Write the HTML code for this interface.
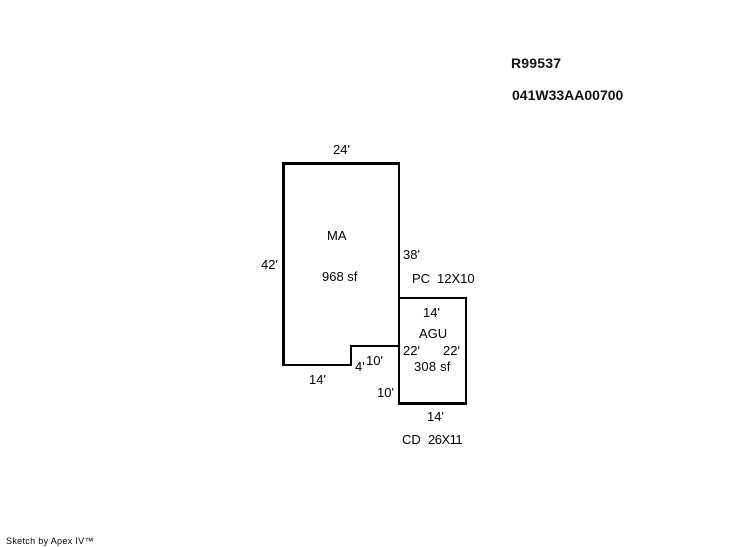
<!DOCTYPE html>
<html>
<head>
<meta charset="utf-8">
<style>
html,body{margin:0;padding:0;background:#fff;width:746px;height:547px;overflow:hidden}
svg{display:block}
text{font-family:"Liberation Sans",sans-serif;font-size:13px;fill:#000}
.b{font-weight:bold;font-size:14px;fill:#111}
</style>
</head>
<body>
<svg width="746" height="547" viewBox="0 0 746 547" xmlns="http://www.w3.org/2000/svg">
<g fill="#000" shape-rendering="crispEdges">
<rect x="282" y="162" width="118" height="3"/>
<rect x="282" y="162" width="3" height="204"/>
<rect x="398" y="162" width="2" height="243"/>
<rect x="282" y="364" width="70" height="2"/>
<rect x="350" y="345" width="2" height="21"/>
<rect x="350" y="345" width="50" height="2"/>
<rect x="398" y="297" width="69" height="2"/>
<rect x="465" y="297" width="2" height="108"/>
<rect x="398" y="402" width="69" height="3"/>
</g>
<text class="b" x="511" y="68" style="letter-spacing:.2px">R99537</text>
<text class="b" x="512" y="100">041W33AA00700</text>
<text x="333" y="154">24'</text>
<text x="327" y="240">MA</text>
<text x="403" y="259">38'</text>
<text x="261" y="269">42'</text>
<text x="322" y="281">968 sf</text>
<text x="412" y="283">PC</text>
<text x="437" y="283">12X10</text>
<text x="423" y="317">14'</text>
<text x="419" y="338">AGU</text>
<text x="403" y="355">22'</text>
<text x="443" y="355">22'</text>
<text x="366" y="365">10'</text>
<text x="355" y="371">4'</text>
<text x="414" y="371" style="letter-spacing:.2px">308 sf</text>
<text x="309" y="384">14'</text>
<text x="377" y="397">10'</text>
<text x="427" y="421">14'</text>
<text x="402" y="444">CD</text>
<text x="428" y="444" style="letter-spacing:-.5px">26X11</text>
<text x="6" y="544" style="font-size:9px;letter-spacing:.32px">Sketch by Apex IV™</text>
</svg>
</body>
</html>
